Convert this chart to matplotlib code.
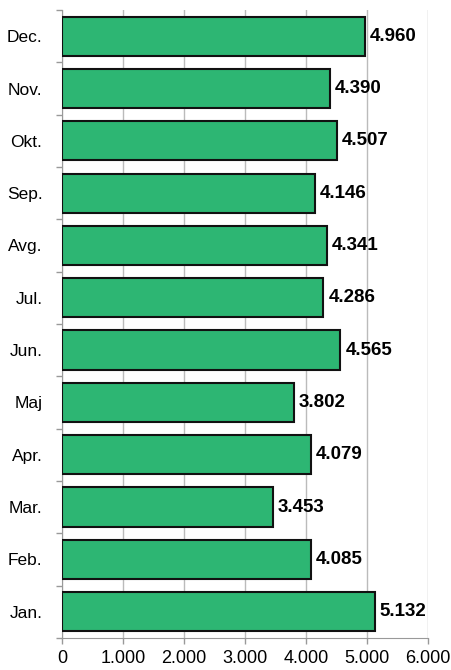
import matplotlib.pyplot as plt
import numpy as np

plt.rcParams['font.family'] = ['Liberation Sans', 'DejaVu Sans']

months = ["Jan.", "Feb.", "Mar.", "Apr.", "Maj", "Jun.", "Jul.", "Avg.", "Sep.", "Okt.", "Nov.", "Dec."]
values = [5132, 4085, 3453, 4079, 3802, 4565, 4286, 4341, 4146, 4507, 4390, 4960]
xticks = [0, 1000, 2000, 3000, 4000, 5000, 6000]
xlabels = ["0", "1.000", "2.000", "3.000", "4.000", "5.000", "6.000"]

fig = plt.figure(figsize=(4.52, 6.7), dpi=100)
ax = fig.add_axes([0.137, 0.048, 0.81, 0.937])

y = np.arange(len(months))
ax.barh(y, values, height=0.75, color="#2DB673", edgecolor="#111111", linewidth=1.5, zorder=3)

for yi, v in zip(y, values):
    label = f"{v:,}".replace(",", ".")
    ax.text(v + 80, yi, label, va="center", ha="left", fontsize=13.5, fontweight="bold", zorder=4)

ax.set_xlim(0, 6000)
ax.set_ylim(-0.5, len(months) - 0.5)
ax.set_xticks(xticks)
ax.set_xticklabels(xlabels, fontsize=13)
ax.set_yticks(y)
ax.set_yticklabels(months, fontsize=12.5)
ax.set_yticks(np.arange(-0.5, len(months), 1), minor=True)
ax.tick_params(axis="y", which="major", length=0, pad=14)
ax.tick_params(axis="y", which="minor", length=4, color="#999999", width=1)
ax.tick_params(axis="x", length=4, color="#999999", width=1, pad=5)

ax.grid(axis="x", color="#bbbbbb", linewidth=1, zorder=0)
for side in ["top", "right"]:
    ax.spines[side].set_visible(False)
ax.spines["left"].set_color("#999999")
ax.spines["bottom"].set_color("#999999")

fig.savefig("out.png", dpi=100)
